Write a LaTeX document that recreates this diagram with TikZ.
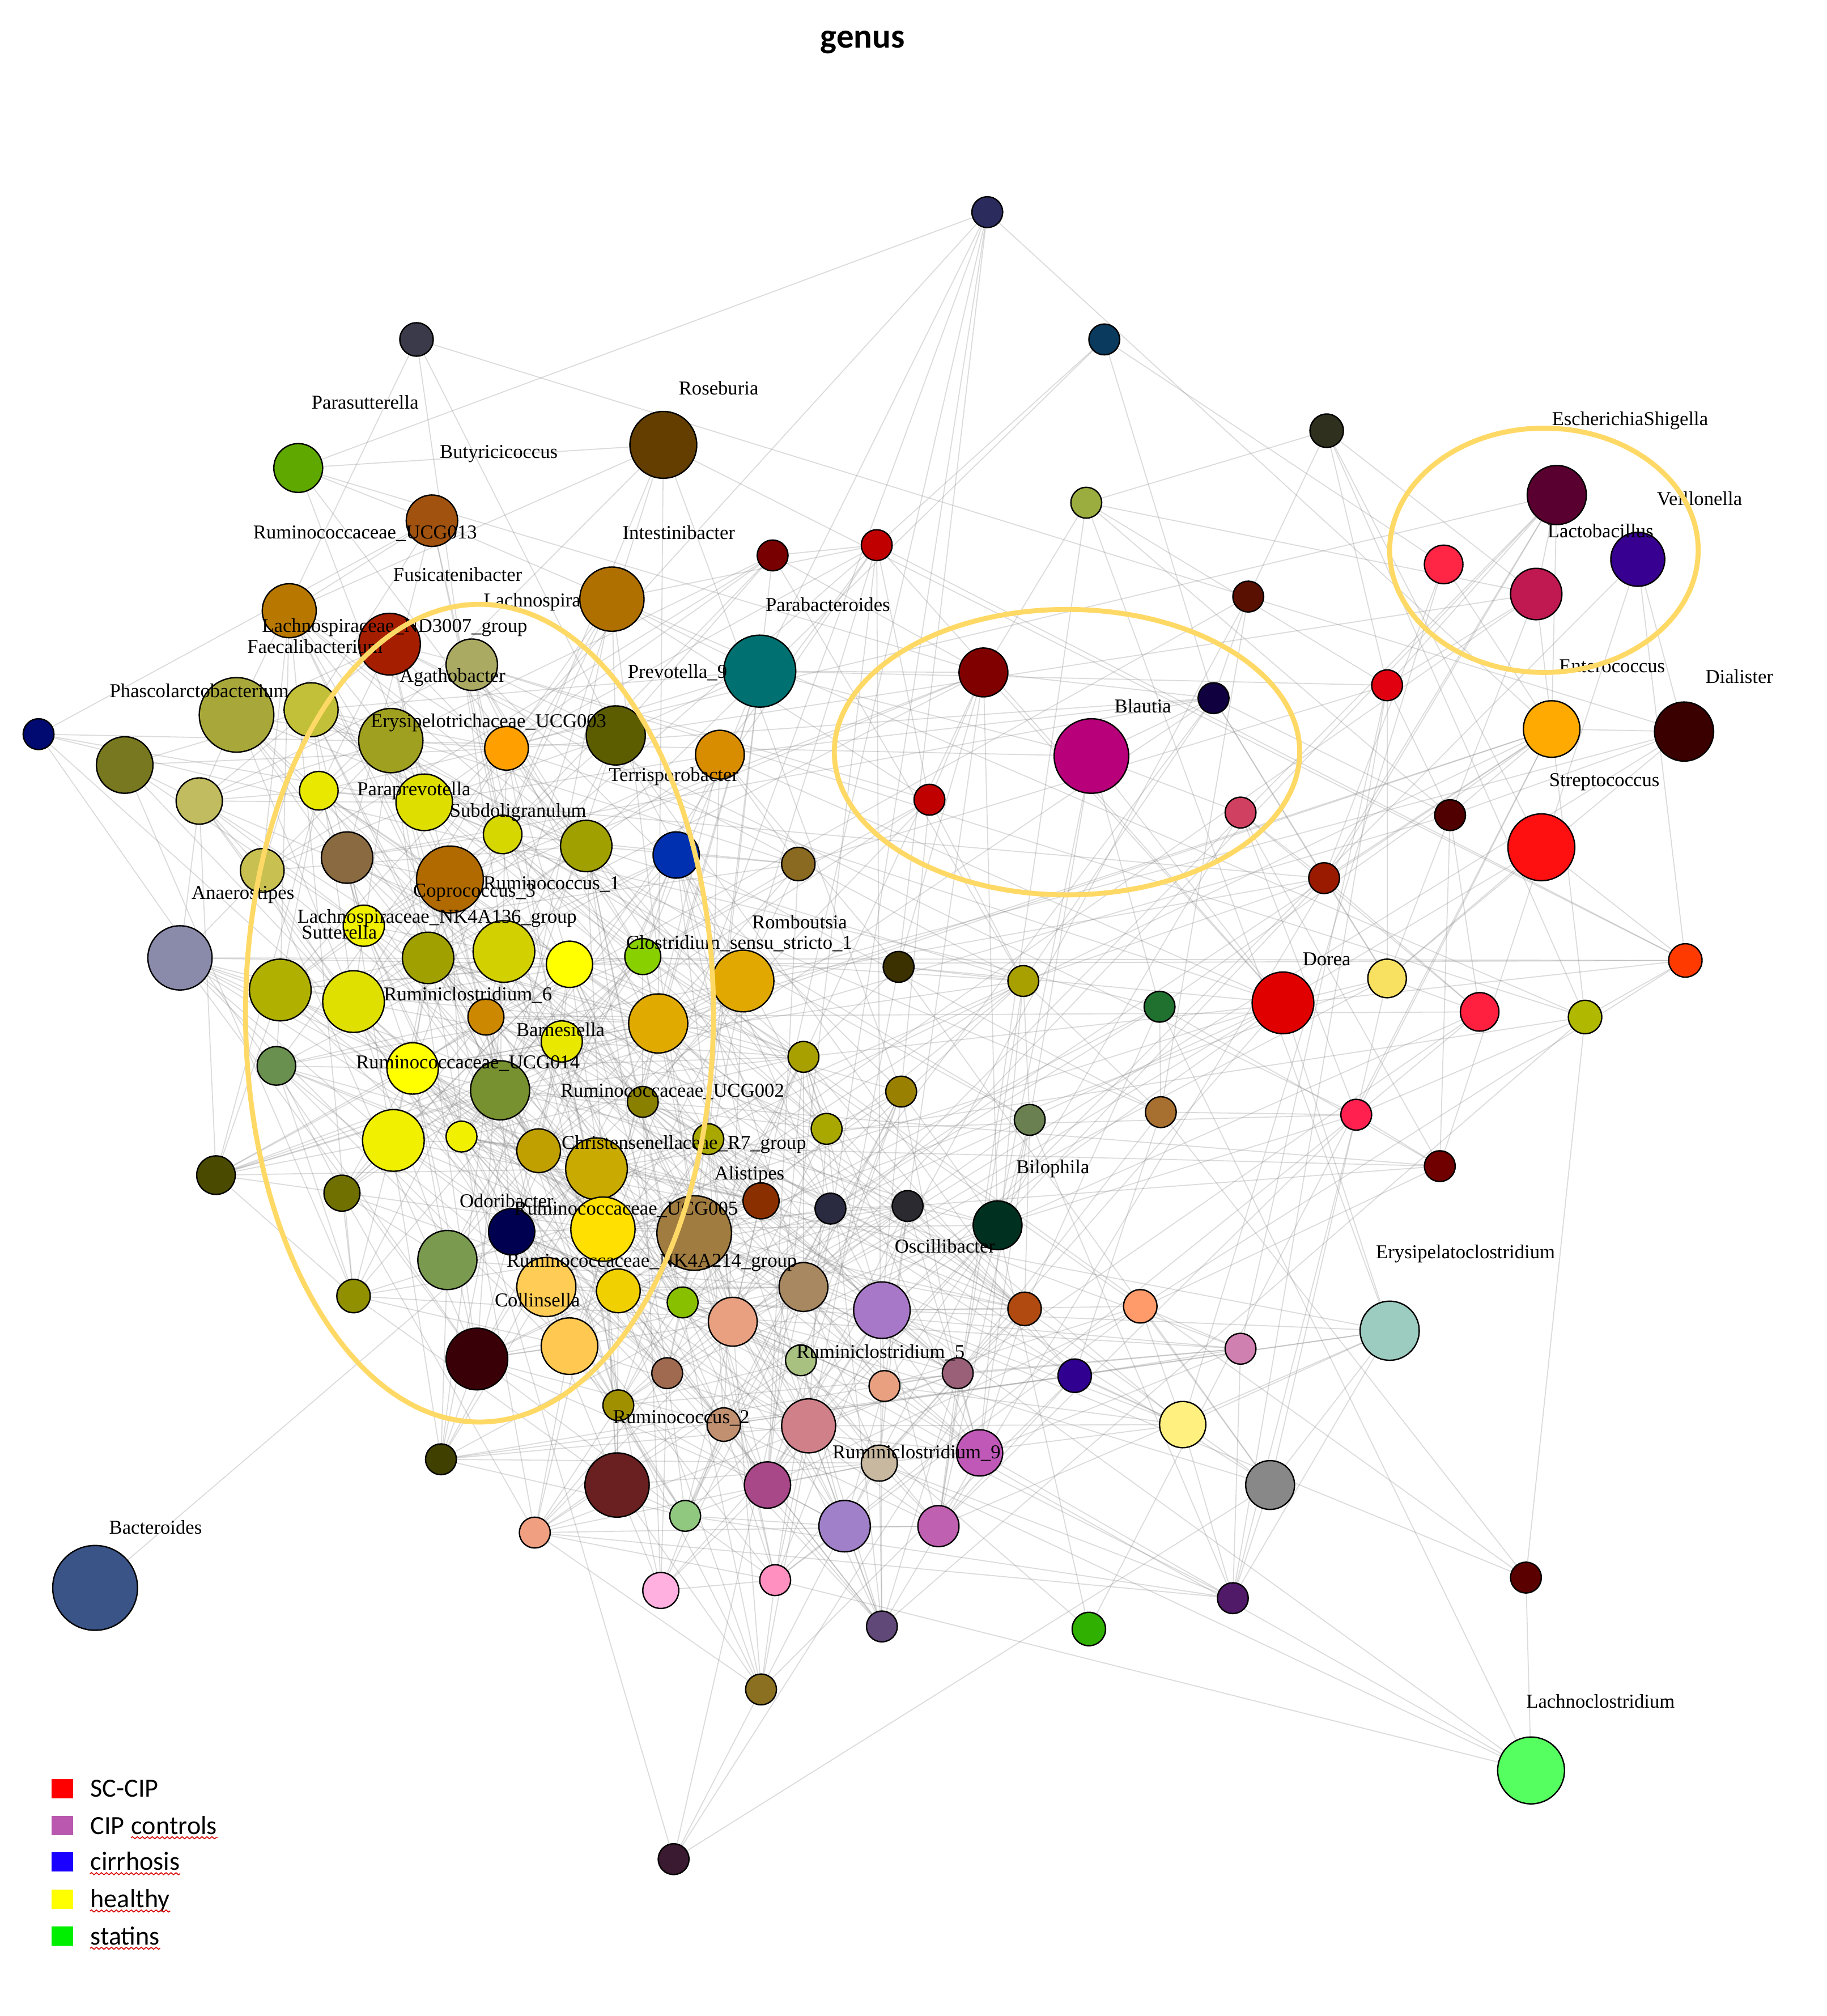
\documentclass[tikz,border=0pt]{standalone}
\usepackage{fontspec}
\setmainfont{Liberation Serif}
\newfontfamily\calfont{Carlito}
\usetikzlibrary{decorations.pathmorphing}
\pgfdeclarelayer{bgfill}
\pgfdeclarelayer{edges}
\pgfsetlayers{bgfill,edges,main}
\definecolor{hlcol}{HTML}{FFD966}
\begin{document}
\begin{tikzpicture}[x=0.02cm,y=-0.02cm,
  bub/.style={circle,draw=black,line width=0.6pt,inner sep=0pt},
  lab/.style={font=\fontsize{8.7}{10}\selectfont,inner sep=0pt},
  edge/.style={draw=black!50,draw opacity=0.28,line width=0.45pt},
  hl/.style={draw=hlcol,line width=2.2pt},
  leg/.style={font=\calfont\fontsize{11.6}{13}\selectfont,inner sep=0pt,anchor=base west},
  legbox/.style={minimum width=0.34cm,minimum height=0.30cm,inner sep=0pt},
  wavy/.style={draw=red!85!black,line width=0.4pt,decorate,decoration={snake,amplitude=0.45pt,segment length=2.2pt}}]
\useasboundingbox (0,0) rectangle (1421,1568);
\begin{pgfonlayer}{bgfill}
\fill[white] (0,0) rectangle (1421,1568);
\end{pgfonlayer}

% ---------- nodes ----------
\foreach \i/\x/\y/\r/\c in {
1/768/165/12/2B2B5E, 2/324/264/13/3A3A4A, 3/859/264/12/0A3A5E, 4/1032/335/13/30301E,
5/232/364/19/5EA800, 6/516/346/26/633E00, 7/336/405/20/A0520E, 8/845/391/12/9AAD3E,
9/601/432/12/780000, 10/682/424/12/C00000, 11/225/475/21/B87800, 12/476/466/25/B07000,
13/303/501/24/A51E00, 14/367/517/20/AAAA62, 15/591/522/28/007070, 16/184/556/29/A8A83A,
17/242/552/21/C2C038, 18/304/576/25/A0A020, 19/394/582/17/FFA000, 20/479/572/23/5C5C00,
21/560/587/19/D88C00, 22/30/571/12/000A70, 23/97/595/22/787820, 24/155/623/18/C2BC60,
25/248/615/15/E8E800, 26/330/624/22/DEDE00, 27/391/649/15/D6D600, 28/456/658/20/A0A000,
29/526/665/18/0030B0, 30/621/672/13/8A6A20, 31/270/667/20/8A6A40, 32/350/684/26/B06A00,
33/204/677/17/C8C050, 34/140/745/25/8A8AAA, 35/283/720/16/F0F000, 36/333/745/20/A0A000,
37/392/740/24/D2D000, 38/443/750/18/FFFF00, 39/500/744/14/88D000, 40/578/763/24/E0A800,
41/699/752/12/3A3000, 42/796/763/12/A8A000, 43/218/770/24/B0B000, 44/275/779/24/E0E000,
45/378/791/14/CC8800, 46/512/796/23/E0AA00, 47/437/810/16/E8E800, 48/215/829/15/6A9050,
49/321/831/20/FFFF00, 50/389/848/23/779030, 51/500/857/12/8A8000, 52/625/822/12/A8A000,
53/701/849/12/9A8000, 54/801/871/12/6A8050, 55/903/865/12/A87030, 56/306/887/24/F0F000,
57/359/884/12/F0F000, 58/419/895/17/C0A000, 59/464/909/24/C8AA00, 60/551/886/12/A8A800,
61/643/878/12/A8A800, 62/168/914/15/4A4A00, 63/266/928/14/707000, 64/592/934/14/8A3000,
65/646/940/12/2A2A40, 66/706/938/12/2A2A30, 67/776/953/19/003020, 68/398/958/18/000050,
69/469/956/25/FFE000, 70/540/959/29/A07C40, 71/348/980/23/7A9A50, 72/275/1008/13/909000,
73/425/1001/23/FFCC55, 74/481/1004/17/F0D000, 75/531/1013/12/88C000, 76/570/1028/19/E8A080,
77/625/1001/19/A88860, 78/686/1019/22/A878C8, 79/797/1018/13/B04A10, 80/887/1016/13/FF9A6A,
81/1081/1035/23/9CCBC0, 82/965/1049/12/D080B0, 83/371/1057/24/3A0008, 84/443/1047/22/FFC850,
85/519/1068/12/A06A50, 86/623/1058/12/A8C080, 87/688/1078/12/E8A080, 88/745/1068/12/9A6078,
89/836/1070/13/300090, 90/481/1093/12/A09000, 91/563/1108/13/C09070, 92/629/1109/21/D08088,
93/684/1138/14/C8B8A0, 94/762/1130/18/C058B8, 95/920/1108/18/FFF080, 96/343/1135/12/404000,
97/480/1155/25/6A2020, 98/597/1155/18/A84888, 99/988/1155/19/888888, 100/416/1192/12/F0A080,
101/533/1179/12/90C880, 102/657/1187/20/A080C8, 103/730/1187/16/C060B0, 104/514/1237/14/FFB0E0,
105/603/1229/12/FF90C0, 106/686/1265/12/604878, 107/847/1267/13/30B000, 108/959/1243/12/501A68,
109/1187/1227/12/5A0000, 110/592/1314/12/8A7020, 111/524/1446/12/3A1A30, 112/74/1235/33/3A5488,
113/1191/1377/26/55FF60, 114/1211/385/23/5A0030, 115/1274/435/21/380090, 116/1123/439/15/FF2545,
117/1195/462/20/C01850, 118/971/464/12/5A1000, 119/1079/533/12/E00010, 120/944/543/12/100040,
121/765/523/19/800000, 122/849/588/29/B8007A, 123/723/622/12/C00000, 124/965/632/12/D04060,
125/1207/567/22/FFAA00, 126/1310/569/23/3A0000, 127/1128/634/12/500000, 128/1199/659/26/FF1010,
129/1030/683/12/9A1A00, 130/1311/747/13/FF3A00, 131/1079/761/15/F8E060, 132/998/780/24/E00000,
133/902/783/12/207030, 134/1151/787/15/FF2040, 135/1233/791/13/B0B800, 136/1055/867/12/FF2050,
137/1120/907/12/700000}{
  \definecolor{tmpc}{HTML}{\c}
  \node[bub,fill=tmpc,minimum size=\r*0.04cm] (n\i) at (\x,\y) {};
  \expandafter\xdef\csname nx\i\endcsname{\x}
  \expandafter\xdef\csname ny\i\endcsname{\y}
}

% ---------- edges ----------
\pgfmathsetseed{4242}
\begin{pgfonlayer}{edges}
\foreach \i in {1,...,136}{
  \pgfmathtruncatemacro\js{\i+1}
  \edef\xa{\csname nx\i\endcsname}\edef\ya{\csname ny\i\endcsname}
  \foreach \j in {\js,...,137}{
    \edef\xb{\csname nx\j\endcsname}\edef\yb{\csname ny\j\endcsname}
    \pgfmathsetmacro\pp{0.85*exp(-veclen((\xa-\xb)/100,(\ya-\yb)/100)*100/140)+0.016}
    \pgfmathtruncatemacro\ok{rnd<\pp}
    \ifnum\ok=1 \draw[edge] (n\i.center) -- (n\j.center);\fi
  }
}
\end{pgfonlayer}

% ---------- labels ----------
\foreach \k/\x/\y/\t in {
1/284/313/Parasutterella, 2/559/302/Roseburia, 3/388/353/Butyricicoccus,
4/284/415/Ruminococcaceae\_UCG013, 5/528/414/Intestinibacter, 6/356/447/Fusicatenibacter,
7/414/468/Lachnospira, 8/307/488/Lachnospiraceae\_ND3007\_group, 9/245/503/Faecalibacterium,
10/352/527/Agathobacter, 11/644/470/Parabacteroides, 12/527/523/Prevotella\_9,
13/155/537/Phascolarctobacterium, 14/380/562/Erysipelotrichaceae\_UCG003, 15/524/604/Terrisporobacter,
16/322/615/Paraprevotella, 17/403/632/Subdoligranulum, 18/429/688/Ruminococcus\_1,
19/369/694/Coprococcus\_3, 20/189/696/Anaerostipes, 21/340/714/Lachnospiraceae\_NK4A136\_group,
22/264/725/Sutterella, 23/622/717/Romboutsia, 24/575/734/Clostridium\_sensu\_stricto\_1,
25/364/774/Ruminiclostridium\_6, 26/436/801/Barnesiella, 27/364/827/Ruminococcaceae\_UCG014,
28/523/849/Ruminococcaceae\_UCG002, 29/532/890/Christensenellaceae\_R7\_group, 30/583/914/Alistipes,
31/394/934/Odoribacter, 32/487/941/Ruminococcaceae\_UCG005, 33/507/982/Ruminococcaceae\_NK4A214\_group,
34/418/1011/Collinsella, 35/735/969/Oscillibacter, 36/819/909/Bilophila,
37/685/1052/Ruminiclostridium\_5, 38/530/1103/Ruminococcus\_2, 39/713/1130/Ruminiclostridium\_9,
40/121/1188/Bacteroides, 41/889/549/Blautia, 42/1268/327/EscherichiaShigella,
43/1322/388/Veillonella, 44/1245/413/Lactobacillus, 45/1254/518/Enterococcus,
46/1353/526/Dialister, 47/1248/608/Streptococcus, 48/1032/746/Dorea,
49/1140/975/Erysipelatoclostridium, 50/1245/1323/Lachnoclostridium}{
  \node[lab] (l\k) at (\x,\y) {\t};
}

% ---------- title ----------
\node[font=\calfont\bfseries\fontsize{15.3}{18}\selectfont,inner sep=0pt] (title) at (671,33) {genus};

% ---------- highlight ellipses ----------
\draw[hl] (373,788) ellipse [x radius=182, y radius=318];
\draw[hl] (830,585) ellipse [x radius=181, y radius=111];
\draw[hl] (1201,428) ellipse [x radius=120, y radius=95];

% ---------- legend ----------
\foreach \k/\y/\c in {1/1391/FF0000, 2/1420/B958AE, 3/1448/1A00FF, 4/1477/FFFF00, 5/1506/00EE00}{
  \definecolor{tmpc}{HTML}{\c}
  \node[legbox,fill=tmpc] (s\k) at (48.5,\y) {};
}
\node[leg] (t1) at (70,1397.5) {SC-CIP};
\node[leg] (t2a) at (70,1426.5) {CIP};
\node[leg] (t2b) at ([xshift=2.6pt]t2a.base east) {controls};
\node[leg] (t3) at (70,1454.5) {cirrhosis};
\node[leg] (t4) at (70,1483.5) {healthy};
\node[leg] (t5) at (70,1512.5) {statins};
\foreach \t in {t2b,t3,t4,t5}{
  \draw[wavy] ([yshift=-1.6pt]\t.base west) -- ([yshift=-1.6pt]\t.base east);
}
\end{tikzpicture}
\end{document}
